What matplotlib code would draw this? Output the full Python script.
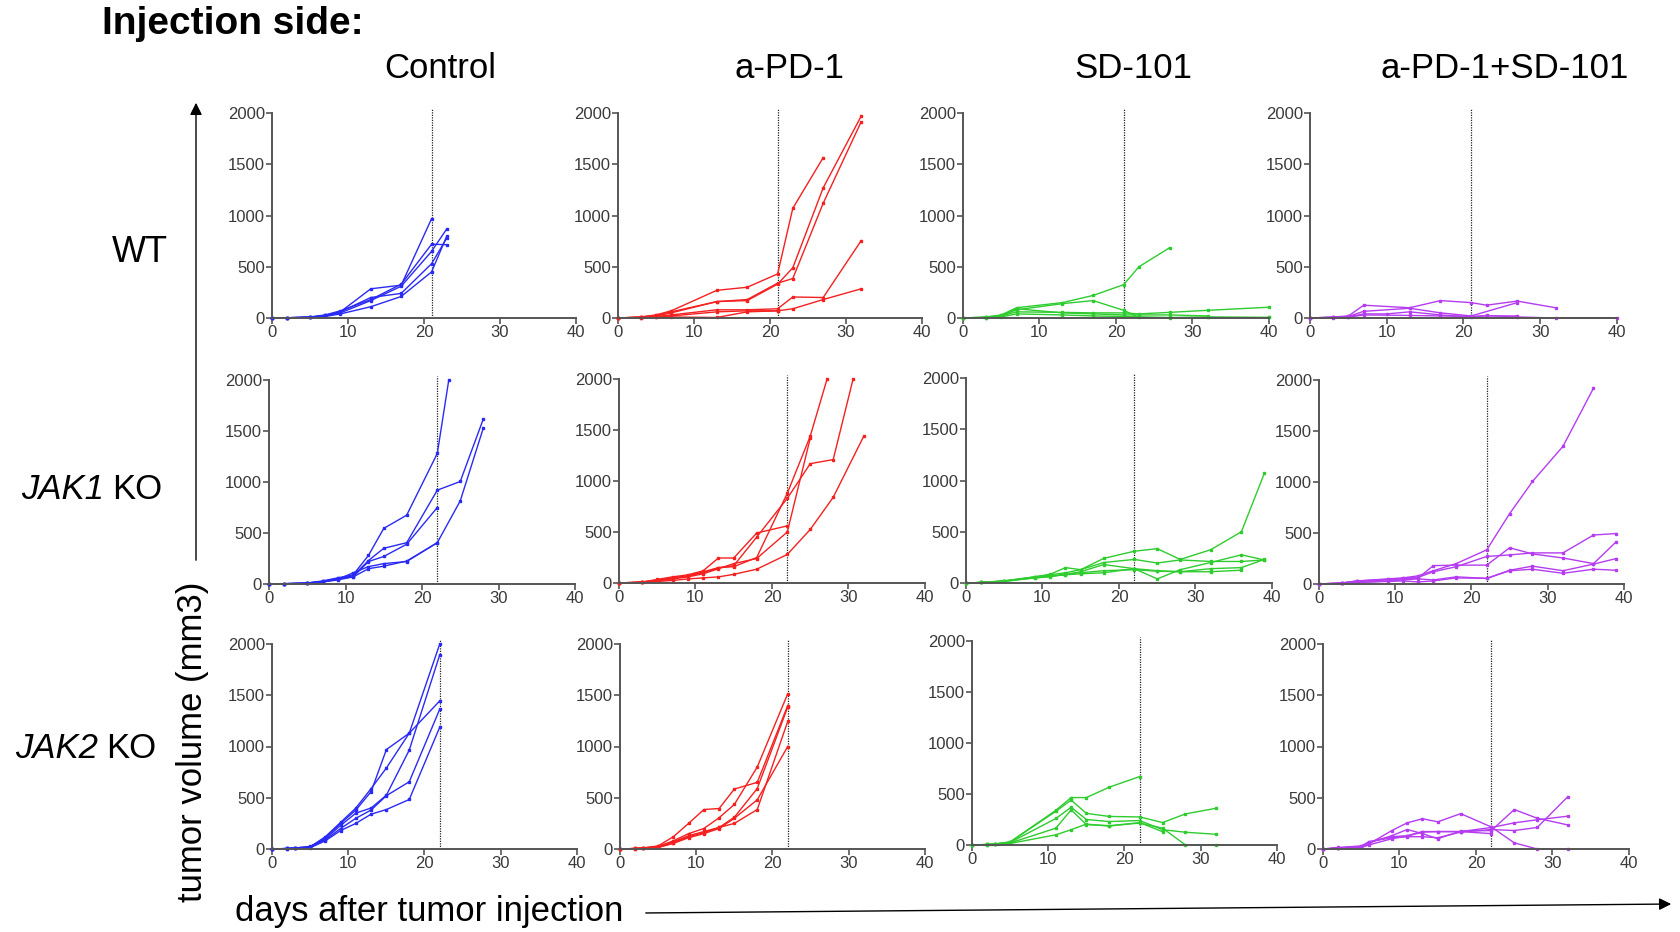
import matplotlib
matplotlib.use("Agg")
import matplotlib.pyplot as plt
from matplotlib.patches import FancyArrowPatch

plt.rcParams['font.family'] = ['Liberation Sans', 'DejaVu Sans']

W, H = 1681, 932

groups = ["Control", "a-PD-1", "SD-101", "a-PD-1+SD-101"]
genes = ["", "JAK1", "JAK2"]
group_colors = ["#2a2af5", "#f52020", "#2ecc2e", "#b53cf0"]
treatment_day = [21, 22, 22]

# ---- WT ----
wt_control = [
    ([0, 2, 5, 7, 9, 13, 17, 21], [0, 2, 8, 25, 60, 285, 320, 970]),
    ([0, 2, 5, 7, 9, 13, 17, 21, 23], [0, 3, 10, 30, 70, 180, 330, 720, 715]),
    ([0, 2, 5, 7, 9, 13, 17, 21, 23], [0, 2, 8, 20, 50, 170, 310, 650, 870]),
    ([0, 2, 5, 7, 9, 13, 17, 21, 23], [0, 2, 5, 15, 40, 110, 210, 450, 800]),
    ([0, 2, 5, 7, 9, 13, 17, 21, 23], [0, 2, 6, 25, 60, 200, 240, 530, 780]),
]
wt_pd1 = [
    ([0, 3, 5, 7, 13, 17, 21, 23, 27], [0, 10, 30, 70, 270, 300, 430, 1070, 1565]),
    ([0, 3, 5, 7, 13, 17, 21, 23, 27, 32], [0, 10, 25, 60, 160, 170, 330, 490, 1270, 1970]),
    ([0, 3, 5, 7, 13, 17, 21, 23, 27, 32], [0, 8, 20, 50, 160, 180, 340, 385, 1120, 1915]),
    ([0, 3, 5, 7, 13, 17, 21, 23, 27, 32], [0, 5, 15, 30, 80, 80, 90, 205, 200, 755]),
    ([0, 3, 5, 7, 13, 17, 21, 23, 27, 32], [0, 3, 10, 20, 60, 70, 70, 90, 180, 285]),
    ([0, 3, 5, 7, 13, 17, 21], [0, 2, 5, 10, 5, 60, 70]),
]
wt_sd = [
    ([0, 3, 5, 7, 13, 17, 21, 23, 27], [0, 10, 30, 100, 150, 220, 325, 500, 685]),
    ([0, 3, 5, 7, 13, 17, 21, 23, 27, 32, 40], [0, 8, 25, 80, 140, 170, 75, 5, 0, 5, 5]),
    ([0, 3, 5, 7, 13, 17, 21, 23, 27, 32, 40], [0, 5, 20, 60, 55, 50, 50, 40, 55, 75, 105]),
    ([0, 3, 5, 7, 13, 17, 21, 27, 32, 40], [0, 3, 10, 40, 30, 20, 15, 5, 10, 5]),
    ([0, 3, 5, 7, 13, 17, 21, 23, 27, 32], [0, 3, 15, 90, 50, 40, 30, 30, 30, 20]),
]
wt_combo = [
    ([0, 3, 5, 7, 13, 17, 21, 23, 27, 32], [0, 10, 20, 125, 100, 170, 150, 125, 165, 100]),
    ([0, 3, 5, 7, 13, 17, 21, 27], [0, 8, 15, 65, 95, 50, 20, 150]),
    ([0, 3, 5, 7, 10, 13, 17, 21, 23, 27, 32, 40], [0, 5, 10, 40, 40, 60, 30, 10, 25, 10, 0, 0]),
    ([0, 3, 5, 7, 13, 17, 21, 23, 27], [0, 3, 8, 30, 25, 20, 15, 20, 20]),
]

# ---- JAK1 KO ----
jak1_control = [
    ([0, 2, 5, 7, 9, 11, 13, 15, 18, 22, 23.5], [0, 3, 10, 30, 60, 90, 280, 545, 675, 1280, 2000]),
    ([0, 2, 5, 7, 9, 11, 13, 15, 18, 22, 25, 28], [0, 3, 10, 25, 55, 80, 230, 350, 405, 920, 1005, 1615]),
    ([0, 2, 5, 7, 9, 11, 13, 15, 18, 22], [0, 3, 8, 25, 50, 70, 220, 270, 390, 750]),
    ([0, 2, 5, 7, 9, 11, 13, 15, 18, 22, 25, 28], [0, 2, 8, 20, 40, 70, 150, 175, 225, 405, 815, 1525]),
    ([0, 2, 5, 7, 9, 11, 13, 15, 18, 22], [0, 2, 5, 20, 45, 110, 170, 200, 220, 405]),
]
jak1_pd1 = [
    ([0, 3, 5, 7, 9, 11, 13, 15, 18, 22, 25, 27.2], [0, 10, 30, 50, 70, 110, 150, 160, 250, 880, 1440, 2000]),
    ([0, 3, 5, 7, 9, 11, 13, 15, 18, 22, 25, 28, 30.6], [0, 10, 25, 45, 70, 100, 150, 170, 450, 830, 1170, 1210, 2000]),
    ([0, 3, 5, 7, 9, 11, 13, 15, 18, 22, 25, 28, 32], [0, 5, 15, 25, 40, 50, 60, 85, 135, 280, 525, 840, 1440]),
    ([0, 3, 5, 7, 9, 11, 13, 15, 18, 22], [0, 8, 35, 60, 80, 120, 245, 245, 490, 560]),
    ([0, 3, 5, 7, 9, 11, 13, 15, 18, 22, 25], [0, 5, 20, 40, 60, 90, 140, 190, 240, 500, 1420]),
]
jak1_sd = [
    ([0, 2, 5, 9, 11, 13, 15, 18, 22, 25, 28, 32, 36, 39], [0, 5, 20, 60, 80, 100, 130, 240, 310, 335, 230, 325, 500, 1070]),
    ([0, 2, 5, 9, 11, 13, 15, 18, 22, 25, 28, 32, 36, 39], [0, 5, 20, 60, 85, 150, 130, 200, 230, 195, 225, 210, 210, 225]),
    ([0, 2, 5, 9, 11, 13, 15, 18, 22, 25, 28, 32, 36, 39], [0, 5, 20, 55, 70, 80, 110, 180, 140, 40, 130, 200, 275, 225]),
    ([0, 2, 5, 9, 11, 13, 15, 18, 22, 25, 28, 32, 36], [0, 5, 15, 50, 60, 90, 100, 120, 130, 115, 110, 110, 125]),
    ([0, 2, 5, 9, 11, 13, 15, 18, 22, 25, 28, 32, 36, 39], [0, 5, 18, 50, 65, 80, 90, 100, 140, 120, 110, 140, 150, 230]),
]
jak1_combo = [
    ([0, 3, 5, 9, 11, 13, 15, 18, 22, 25, 28, 32, 36], [0, 10, 30, 50, 60, 80, 130, 200, 335, 690, 1005, 1350, 1920]),
    ([0, 3, 5, 9, 11, 13, 15, 18, 22, 25, 28, 32, 36, 39], [0, 10, 30, 45, 55, 65, 120, 170, 270, 285, 305, 305, 480, 495]),
    ([0, 3, 5, 9, 11, 13, 15, 18, 22, 25, 28, 32, 36, 39], [0, 10, 25, 40, 50, 60, 180, 185, 185, 355, 295, 255, 200, 415]),
    ([0, 3, 5, 9, 11, 13, 15, 18, 22, 25, 28, 32, 36, 39], [0, 5, 15, 25, 30, 20, 30, 60, 55, 135, 175, 130, 195, 250]),
    ([0, 3, 5, 9, 11, 13, 15, 18, 22, 25, 28, 32, 36, 39], [0, 5, 15, 30, 40, 50, 40, 70, 55, 130, 145, 105, 145, 135]),
]

# ---- JAK2 KO ----
jak2_control = [
    ([0, 2, 3, 5, 7, 9, 11, 13, 15, 18, 22], [0, 5, 10, 20, 110, 250, 380, 560, 970, 1130, 1445]),
    ([0, 2, 3, 5, 7, 9, 11, 13, 15, 18, 22], [0, 5, 10, 20, 120, 260, 400, 590, 790, 1130, 2000]),
    ([0, 2, 3, 5, 7, 9, 11, 13, 15, 18, 22], [0, 5, 10, 25, 100, 230, 350, 400, 525, 965, 1895]),
    ([0, 2, 3, 5, 7, 9, 11, 13, 15, 18, 22], [0, 4, 8, 15, 90, 200, 300, 380, 520, 656, 1364]),
    ([0, 2, 3, 5, 7, 9, 11, 13, 15, 18, 22], [0, 3, 6, 12, 80, 180, 250, 340, 385, 483, 1188]),
]
jak2_pd1 = [
    ([0, 2, 3, 5, 7, 9, 11, 13, 15, 18, 22], [0, 5, 10, 30, 120, 250, 385, 395, 585, 650, 1400]),
    ([0, 2, 3, 5, 7, 9, 11, 13, 15, 18, 22], [0, 5, 10, 25, 80, 150, 200, 305, 435, 800, 1515]),
    ([0, 2, 3, 5, 7, 9, 11, 13, 15, 18, 22], [0, 5, 8, 20, 70, 130, 170, 210, 310, 590, 1385]),
    ([0, 2, 3, 5, 7, 9, 11, 13, 15, 18, 22], [0, 4, 8, 15, 60, 120, 160, 210, 250, 385, 1245]),
    ([0, 2, 3, 5, 7, 9, 11, 13, 15, 18, 22], [0, 4, 7, 15, 55, 110, 150, 200, 300, 480, 1000]),
]
jak2_sd = [
    ([0, 2, 3, 5, 11, 13, 15, 18, 22], [0, 5, 10, 30, 340, 465, 465, 567, 671]),
    ([0, 2, 3, 5, 11, 13, 15, 18, 22, 25, 28, 32], [0, 5, 10, 30, 330, 440, 310, 280, 275, 220, 305, 360]),
    ([0, 2, 3, 5, 11, 13, 15, 18, 22, 25, 28, 32], [0, 5, 10, 25, 260, 370, 250, 230, 240, 150, 125, 105]),
    ([0, 2, 3, 5, 11, 13, 15, 18, 22, 25, 28, 32], [0, 4, 8, 20, 165, 345, 200, 190, 215, 165, 0, 0]),
    ([0, 2, 3, 5, 11, 13, 15, 18, 22, 25], [0, 3, 6, 15, 100, 150, 205, 185, 220, 130]),
]
jak2_combo = [
    ([0, 2, 5, 6, 9, 11, 13, 15, 18, 22, 25, 28, 32], [0, 10, 20, 50, 180, 255, 295, 265, 345, 215, 60, 0, 0]),
    ([0, 2, 5, 6, 9, 11, 13, 15, 18, 22, 25, 28, 32], [0, 10, 25, 60, 130, 190, 150, 100, 175, 180, 385, 300, 235]),
    ([0, 2, 5, 6, 9, 11, 13, 15, 18, 22, 25, 28, 32], [0, 8, 20, 70, 120, 130, 170, 170, 170, 210, 255, 285, 320]),
    ([0, 2, 5, 6, 9, 11, 13, 15, 18, 22, 25, 28, 32], [0, 15, 30, 70, 110, 120, 120, 110, 165, 190, 180, 210, 510]),
    ([0, 2, 5, 6, 9, 11, 13, 15, 18, 22], [0, 5, 15, 40, 100, 125, 165, 170, 170, 150]),
]

panels = [
    [wt_control, wt_pd1, wt_sd, wt_combo],
    [jak1_control, jak1_pd1, jak1_sd, jak1_combo],
    [jak2_control, jak2_pd1, jak2_sd, jak2_combo],
]

# axes boxes in pixels: left, top, right, bottom
boxes = [
    [(272, 113, 576, 318), (618, 113, 922, 318), (963, 113, 1269, 318), (1310, 113, 1617, 318)],
    [(269, 380, 575, 584), (619, 379, 925, 583), (966, 378, 1272, 583), (1319, 380, 1624, 584)],
    [(272, 644, 577, 849), (620, 644, 925, 849), (972, 641, 1277, 845), (1323, 644, 1629, 849)],
]


def fx(px):
    return px / W


def fy(py):
    return 1 - py / H


fig = plt.figure(figsize=(W / 100, H / 100), dpi=100)
axis_grey = "#555555"

for r in range(3):
    for c in range(4):
        l, t, rt, b = boxes[r][c]
        ax = fig.add_axes([fx(l), fy(b), (rt - l) / W, (b - t) / H])
        for days, vols in panels[r][c]:
            ax.plot(days, vols, color=group_colors[c], lw=1.0, marker="s",
                    ms=1.7, clip_on=False)
        ax.plot([treatment_day[r]] * 2, [0, 2040], color="#222222", lw=0.9,
                ls=(0, (1, 1)), clip_on=False, zorder=0)
        ax.set_xlim(0, 40)
        ax.set_ylim(0, 2000)
        ax.set_xticks([0, 10, 20, 30, 40])
        ax.set_yticks([0, 500, 1000, 1500, 2000])
        for s in ["top", "right"]:
            ax.spines[s].set_visible(False)
        for s in ["left", "bottom"]:
            ax.spines[s].set_color(axis_grey)
            ax.spines[s].set_linewidth(1.4)
        ax.tick_params(direction="out", length=4, width=1.2, color=axis_grey,
                       labelsize=12, labelcolor="#3a3a3a", pad=1.0)
        ax.patch.set_alpha(0)

# headers
fig.text(fx(102), fy(24), "Injection side:", fontsize=28, fontweight="bold",
         ha="left", va="center")
header_x = [440, 790, 1133, 1505]
for x, g in zip(header_x, groups):
    fig.text(fx(x), fy(68), g, fontsize=25, ha="center", va="center")

# row labels: gene name in italics, followed by "KO"
fig.text(fx(140), fy(253), "WT", fontsize=26, ha="center", va="center")
fig.text(fx(104), fy(490), genes[1], fontsize=25, style="italic",
         ha="right", va="center")
fig.text(fx(112), fy(490), "KO", fontsize=25, ha="left", va="center")
fig.text(fx(98), fy(748), genes[2], fontsize=25, style="italic",
         ha="right", va="center")
fig.text(fx(106), fy(748), "KO", fontsize=25, ha="left", va="center")

# axis captions with arrows
fig.text(fx(193), fy(742), "tumor volume (mm3)", fontsize=25, rotation=90,
         ha="center", va="center")
fig.text(fx(429), fy(911), "days after tumor injection", fontsize=25,
         ha="center", va="center")
fig.add_artist(FancyArrowPatch((fx(196), fy(563)), (fx(196), fy(100)),
                               transform=fig.transFigure, arrowstyle="-|>",
                               mutation_scale=18, lw=1.0, color="black"))
fig.add_artist(FancyArrowPatch((fx(643), fy(913)), (fx(1674), fy(904)),
                               transform=fig.transFigure, arrowstyle="-|>",
                               mutation_scale=18, lw=1.0, color="black"))

fig.savefig("out.png", dpi=100)
